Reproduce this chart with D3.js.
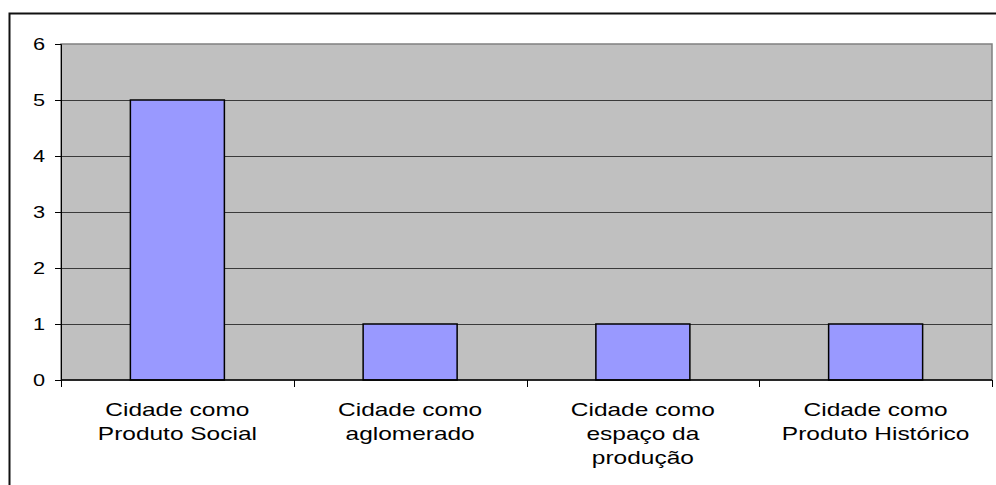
<!DOCTYPE html>
<html>
<head>
<meta charset="utf-8">
<script src="https://cdn.jsdelivr.net/npm/d3@7"></script>
<style>
  body { margin: 0; background: #fff; }
  svg { display: block; }
  text { font-family: "Liberation Sans", Arial, sans-serif; fill: #000; }
</style>
</head>
<body>
<svg width="996" height="485"></svg>
<script>

var categories = [
  ["Cidade como", "Produto Social"],
  ["Cidade como", "aglomerado"],
  ["Cidade como", "espaço da", "produção"],
  ["Cidade como", "Produto Histórico"]
];
var values = [5, 1, 1, 1];
var yTicks = [0, 1, 2, 3, 4, 5, 6];

var svg = d3.select("svg"),
    stretch = 1.36;

var plotLeft = 61, plotRight = 992, plotTop = 44, plotBottom = 380;

// outer chart border (runs off the right and bottom edge)
svg.append("rect")
    .attr("x", 9.5).attr("y", 13.5)
    .attr("width", 1010).attr("height", 500)
    .attr("fill", "none")
    .attr("stroke", "#111")
    .attr("stroke-width", 2);

var x = d3.scaleLinear()
    .domain([0, categories.length])
    .range([plotLeft, plotRight]);

var y = d3.scaleLinear()
    .domain([0, 6])
    .range([plotBottom, plotTop]);

// plot area
svg.append("rect")
    .attr("x", plotLeft).attr("y", plotTop)
    .attr("width", plotRight - plotLeft).attr("height", plotBottom - plotTop)
    .attr("fill", "#c0c0c0")
    .attr("stroke", "#808080")
    .attr("stroke-width", 1.5);

// gridlines
svg.append("g")
    .selectAll("line")
    .data(yTicks.filter(function(d) { return d > 0 && d < 6; }))
    .enter()
    .append("line")
    .attr("x1", plotLeft).attr("x2", plotRight)
    .attr("y1", function(d) { return Math.round(y(d)) + 0.5; })
    .attr("y2", function(d) { return Math.round(y(d)) + 0.5; })
    .attr("stroke", "#3a3a3a")
    .attr("stroke-width", 1);

// bars
var barW = 94;
svg.append("g")
    .selectAll("rect")
    .data(values)
    .enter()
    .append("rect")
    .attr("x", function(d, i) { return x(i + 0.5) - barW / 2; })
    .attr("width", barW)
    .attr("y", function(d) { return y(d); })
    .attr("height", function(d) { return y(0) - y(d); })
    .attr("fill", "#9999ff")
    .attr("stroke", "#000")
    .attr("stroke-width", 1.5);

// y axis
var yAxis = svg.append("g")
    .attr("transform", "translate(" + plotLeft + ",0)")
    .call(d3.axisLeft(y).tickValues(yTicks).tickSize(6).tickPadding(10).tickFormat(d3.format("d")));
yAxis.select(".domain").attr("stroke", "#000");
yAxis.selectAll(".tick line").attr("stroke", "#000");
yAxis.selectAll(".tick text")
    .attr("font-size", 16)
    .attr("font-family", "Liberation Sans, Arial, sans-serif")
    .attr("text-anchor", "end")
    .attr("transform", function() {
        var tx = +d3.select(this).attr("x");
        return "translate(" + tx + ",0) scale(" + stretch + ",1) translate(" + (-tx) + ",0)";
    });

// x axis line and ticks at category boundaries
svg.append("line")
    .attr("x1", plotLeft).attr("x2", plotRight)
    .attr("y1", plotBottom).attr("y2", plotBottom)
    .attr("stroke", "#000").attr("stroke-width", 1.5);

svg.append("g")
    .selectAll("line")
    .data(d3.range(categories.length + 1))
    .enter()
    .append("line")
    .attr("x1", function(d) { return Math.round(x(d)) + 0.5; })
    .attr("x2", function(d) { return Math.round(x(d)) + 0.5; })
    .attr("y1", plotBottom).attr("y2", plotBottom + 7)
    .attr("stroke", "#000");

// category labels
var labels = svg.append("g")
    .selectAll("g")
    .data(categories)
    .enter()
    .append("g")
    .attr("transform", function(d, i) {
        return "translate(" + x(i + 0.5) + ",416) scale(" + stretch + ",1)";
    });

labels.selectAll("text")
    .data(function(d) { return d; })
    .enter()
    .append("text")
    .attr("y", function(d, i) { return i * 24; })
    .attr("text-anchor", "middle")
    .attr("font-size", 18)
    .text(function(d) { return d; });

</script>
</body>
</html>
